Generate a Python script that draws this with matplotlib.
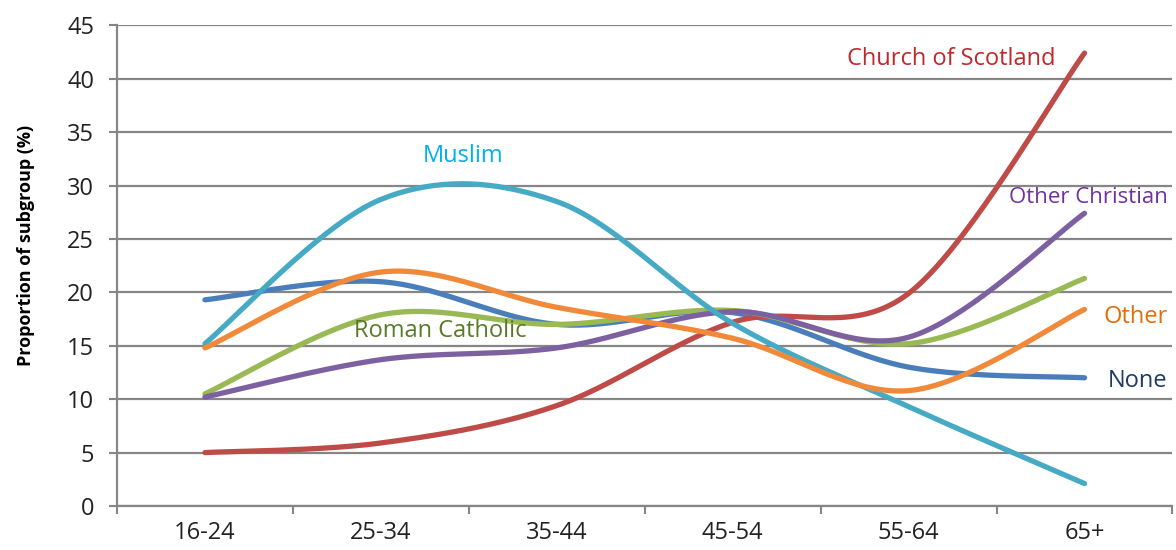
import matplotlib.pyplot as plt
import numpy as np

plt.rcParams['font.family'] = ['Open Sans', 'DejaVu Sans']

# Age groups and each subgroup's share (%)
ages = ["16-24", "25-34", "35-44", "45-54", "55-64", "65+"]
church_of_scotland = [5.0, 5.9, 9.4, 17.2, 19.9, 42.4]
muslim = [15.2, 28.7, 28.5, 17.1, 9.3, 2.1]
none = [19.3, 21.0, 17.0, 18.1, 13.0, 12.0]
other = [14.8, 21.9, 18.6, 15.7, 10.8, 18.4]
roman_catholic = [10.5, 17.9, 17.0, 18.3, 15.2, 21.3]
other_christian = [10.2, 13.7, 14.8, 18.2, 15.8, 27.4]


def smooth(y, n=40):
    # Excel-style smoothed line: cubic Bezier through points, controls at 1/6
    y = np.asarray(y, dtype=float)
    x = np.arange(len(y), dtype=float)
    xs, ys = [], []
    for i in range(len(y) - 1):
        i0 = max(i - 1, 0)
        i3 = min(i + 2, len(y) - 1)
        p0 = np.array([x[i], y[i]])
        p3 = np.array([x[i + 1], y[i + 1]])
        c1 = p0 + (np.array([x[i + 1], y[i + 1]]) - np.array([x[i0], y[i0]])) / 6
        c2 = p3 - (np.array([x[i3], y[i3]]) - np.array([x[i], y[i]])) / 6
        t = np.linspace(0, 1, n)[:, None]
        pts = ((1 - t) ** 3) * p0 + 3 * ((1 - t) ** 2) * t * c1 + 3 * (1 - t) * t ** 2 * c2 + t ** 3 * p3
        xs.extend(pts[:, 0])
        ys.extend(pts[:, 1])
    return xs, ys


series = [
    (none, "#4A7EBB"),
    (church_of_scotland, "#BE4B48"),
    (roman_catholic, "#98B954"),
    (other_christian, "#7D60A0"),
    (muslim, "#46AAC5"),
    (other, "#F08A3A"),
]

fig = plt.figure(figsize=(11.76, 5.5), dpi=100)
ax = fig.add_axes([0.0995, 0.08, 0.8975, 0.874])

for vals, col in series:
    sx, sy = smooth(vals)
    ax.plot(sx, sy, color=col, lw=3.8, solid_capstyle='round', zorder=3)

ax.set_xlim(-0.5, len(ages) - 0.5)
ax.set_ylim(0, 45)
ax.set_yticks(range(0, 46, 5))
ax.set_xticks(range(len(ages)))
ax.set_xticklabels(ages)
ax.set_xticks(np.arange(-0.5, len(ages), 1), minor=True)
ax.tick_params(axis='x', which='major', length=0, pad=11, labelsize=17, colors='#222222')
ax.tick_params(axis='x', which='minor', length=5.5, width=1.5, color='#868686')
ax.tick_params(axis='y', length=5.5, width=1.5, color='#868686', labelsize=17, labelcolor='#222222', pad=11)
ax.grid(axis='y', color='#868686', lw=1.6, zorder=0)
for s in ['top', 'right']:
    ax.spines[s].set_visible(False)
for s in ['left', 'bottom']:
    ax.spines[s].set_color('#868686')
    ax.spines[s].set_linewidth(1.6)
ax.set_ylabel("Proportion of subgroup (%)", fontsize=13, fontweight='bold')
ax.yaxis.set_label_coords(-0.078, 0.543)

# Series labels
ax.text(4.24, 41.8, "Church of Scotland", color="#C0282D", fontsize=17, ha='center', va='center')
ax.text(1.47, 32.8, "Muslim", color="#00B0F0", fontsize=17, ha='center', va='center')
ax.text(4.57, 28.9, "Other Christian", color="#7030A0", fontsize=16, ha='left', va='center')
ax.text(1.34, 16.4, "Roman Catholic", color="#5A7A2A", fontsize=17, ha='center', va='center')
ax.text(5.11, 17.7, "Other", color="#E46C0A", fontsize=17, ha='left', va='center')
ax.text(5.13, 11.7, "None", color="#1F3B63", fontsize=17, ha='left', va='center')

fig.savefig("out.png", dpi=100)
